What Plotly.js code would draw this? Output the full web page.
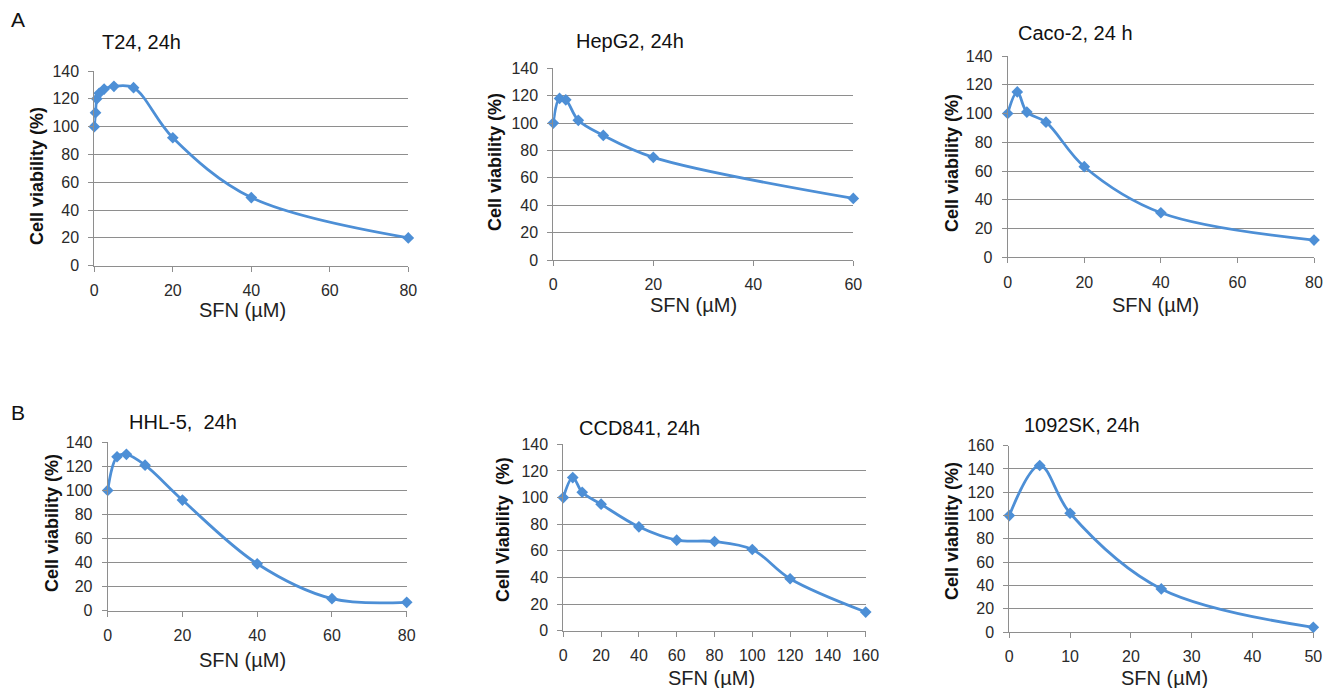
<!DOCTYPE html>
<html>
<head>
<meta charset="utf-8">
<script src="https://cdn.plot.ly/plotly-3.0.1.min.js"></script>
<style>
html,body{margin:0;padding:0;background:#fff;}
#chart{width:1325px;height:688px;}
</style>
</head>
<body>
<div id="chart"></div>
<script>
// ---- Data ----
const t24Dose = [0, 0.3125, 0.625, 1.25, 2.5, 5, 10, 20, 40, 80];
const t24Viab = [100, 110, 120, 124, 127, 129, 128, 92, 49, 20];

const hepg2Dose = [0, 1.25, 2.5, 5, 10, 20, 60];
const hepg2Viab = [100, 118, 117, 102, 91, 75, 45];

const caco2Dose = [0, 2.5, 5, 10, 20, 40, 80];
const caco2Viab = [100, 115, 101, 94, 63, 31, 12];

const hhl5Dose = [0, 2.5, 5, 10, 20, 40, 60, 80];
const hhl5Viab = [100, 128, 130, 121, 92, 39, 10, 7];

const ccd841Dose = [0, 5, 10, 20, 40, 60, 80, 100, 120, 160];
const ccd841Viab = [100, 115, 104, 95, 78, 68, 67, 61, 39, 14];

const sk1092Dose = [0, 5, 10, 25, 50];
const sk1092Viab = [100, 143, 102, 37, 4];

const panelTitles = ["T24, 24h", "HepG2, 24h", "Caco-2, 24 h", "HHL-5,\u00a0 24h", "CCD841, 24h", "1092SK, 24h"];
const yTitles = ["Cell viability (%)", "Cell viability (%)", "Cell viability (%)", "Cell viability (%)", "Cell Viability\u00a0 (%)", "Cell viability (%)"];
const xTitle = "SFN (\u00b5M)";
const panelLetters = ["A", "B"];
const xMax = [80, 60, 80, 80, 160, 50];
const xStep = [20, 20, 20, 20, 20, 10];
const yMax = [140, 140, 140, 140, 140, 160];

const doses = [t24Dose, hepg2Dose, caco2Dose, hhl5Dose, ccd841Dose, sk1092Dose];
const viabs = [t24Viab, hepg2Viab, caco2Viab, hhl5Viab, ccd841Viab, sk1092Viab];

// ---- Layout geometry (pixels) ----
const W = 1325, H = 688;
const boxes = [
  {x0: 94.3, x1: 408.3, y0: 71, y1: 265.7},
  {x0: 553.3, x1: 853.3, y0: 68.3, y1: 260},
  {x0: 1007.7, x1: 1314, y0: 56, y1: 257.3},
  {x0: 107.7, x1: 406.7, y0: 442.3, y1: 610.7},
  {x0: 563.3, x1: 865.7, y0: 444.3, y1: 630.7},
  {x0: 1009.3, x1: 1313.3, y0: 445.7, y1: 632}
];
const titlePos = [[141, 42], [630, 41], [1075, 33], [183, 422], [639, 428], [1082, 425]];
const xTitlePos = [[242, 310], [693, 305], [1155, 305], [242, 660], [711, 678], [1164, 678]];
const yTitlePos = [[37, 176], [495, 162], [952, 163], [52, 523], [503, 530], [952, 531]];
const letterPos = [[18, 19], [18, 413]];

const lineColor = '#4d8fd6';
const gridColor = '#8e8e8e';
const font = 'Liberation Sans, Arial, sans-serif';

const px = v => v / W;
const py = v => 1 - v / H;

const traces = [];
const layout = {
  width: W, height: H,
  margin: {l: 0, r: 0, t: 0, b: 0},
  paper_bgcolor: '#fff', plot_bgcolor: '#fff',
  showlegend: false,
  font: {family: font, color: '#222'},
  annotations: []
};

for (let i = 0; i < 6; i++) {
  const n = i + 1;
  const xa = 'x' + (n === 1 ? '' : n), ya = 'y' + (n === 1 ? '' : n);
  traces.push({
    x: doses[i], y: viabs[i], xaxis: xa, yaxis: ya,
    type: 'scatter', mode: 'lines+markers', cliponaxis: false,
    line: {color: lineColor, width: 2.8, shape: 'spline', smoothing: 1},
    marker: {symbol: 'diamond', size: 9, color: lineColor}
  });
  const b = boxes[i];
  layout['xaxis' + (n === 1 ? '' : n)] = {
    domain: [px(b.x0), px(b.x1)], anchor: ya,
    range: [0, xMax[i]], dtick: xStep[i], tick0: 0,
    showgrid: false, zeroline: false, showline: true,
    linecolor: gridColor, linewidth: 1,
    ticks: 'outside', ticklen: 5, tickcolor: gridColor, tickwidth: 1,
    ticklabelstandoff: 5,
    tickfont: {size: 16, color: '#2a2a2a', family: font}, fixedrange: true
  };
  layout['yaxis' + (n === 1 ? '' : n)] = {
    domain: [py(b.y1), py(b.y0)], anchor: xa,
    range: [0, yMax[i]], dtick: 20, tick0: 0,
    showgrid: true, gridcolor: gridColor, gridwidth: 1,
    zeroline: false, showline: true,
    linecolor: gridColor, linewidth: 1,
    ticks: 'outside', ticklen: 5, tickcolor: gridColor, tickwidth: 1,
    ticklabelstandoff: 6,
    tickfont: {size: 16, color: '#2a2a2a', family: font}, fixedrange: true
  };
  layout.annotations.push({
    xref: 'paper', yref: 'paper', x: px(titlePos[i][0]), y: py(titlePos[i][1]),
    xanchor: 'center', yanchor: 'middle', showarrow: false,
    text: panelTitles[i], font: {size: 20, color: '#111', family: font}
  });
  layout.annotations.push({
    xref: 'paper', yref: 'paper', x: px(xTitlePos[i][0]), y: py(xTitlePos[i][1]),
    xanchor: 'center', yanchor: 'middle', showarrow: false,
    text: xTitle, font: {size: 20, color: '#222', family: font}
  });
  layout.annotations.push({
    xref: 'paper', yref: 'paper', x: px(yTitlePos[i][0]), y: py(yTitlePos[i][1]),
    xanchor: 'center', yanchor: 'middle', showarrow: false, textangle: -90,
    text: '<b>' + yTitles[i] + '</b>', font: {size: 18, color: '#111', family: font}
  });
}
for (let j = 0; j < 2; j++) {
  layout.annotations.push({
    xref: 'paper', yref: 'paper', x: px(letterPos[j][0]), y: py(letterPos[j][1]),
    xanchor: 'center', yanchor: 'middle', showarrow: false,
    text: panelLetters[j], font: {size: 21, color: '#111', family: font}
  });
}

Plotly.newPlot('chart', traces, layout, {displayModeBar: false, staticPlot: true});
</script>
</body>
</html>
